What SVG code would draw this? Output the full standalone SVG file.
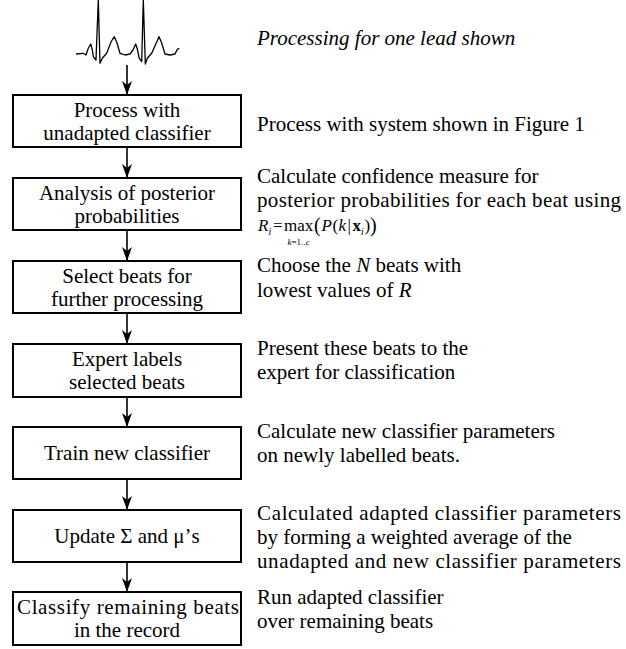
<svg xmlns="http://www.w3.org/2000/svg" width="626" height="649" viewBox="0 0 626 649">
<style>
text { font-family: "Liberation Serif", "Times New Roman", serif; font-size: 21px; fill: #000; }
.c { text-anchor: middle; }
.it { font-style: italic; }
.box { fill: #fff; stroke: #000; stroke-width: 2; }
.conn { stroke: #000; stroke-width: 1.6; fill: none; }
.f { font-size: 17px; }
.fb { font-size: 20px; }
.fs { font-size: 10px; }
.fss { font-size: 9px; }
</style>
<defs>
<marker id="ah" markerWidth="14" markerHeight="10" refX="14" refY="5" orient="auto" markerUnits="userSpaceOnUse" viewBox="0 0 14 10">
<path d="M0,0 L14,5 L0,10 L4,5 Z" fill="#000"/>
</marker>
</defs>

<g id="ecg">
<path d="M76,54 L83,53.3 L86,55 L88.3,48.3 L90.7,44 L92.3,50 L93.3,56.7 L96,60 L98.3,0 L100,63.3 L102.3,58.3 L106.7,53.3 L111,42 L114.3,36.7 L116.7,42 L120,53.3 L125,55 L130,54 L133,50 L135.7,44 L137.3,49 L139.3,58.3 L141.7,61.7 L143.3,0 L145.3,64 L147.3,58.3 L151.7,53.3 L156.7,42 L159,36.7 L161.7,43 L165,54 L170,55 L175,54 L177.3,49.3 L179.3,48.3" fill="none" stroke="#000" stroke-width="1.3" stroke-linejoin="round"/>
</g>

<g id="connectors">
<line class="conn" x1="127" y1="65" x2="127" y2="95" marker-end="url(#ah)"/>
<line class="conn" x1="127" y1="147" x2="127" y2="178" marker-end="url(#ah)"/>
<line class="conn" x1="127" y1="230" x2="127" y2="261" marker-end="url(#ah)"/>
<line class="conn" x1="127" y1="313" x2="127" y2="344" marker-end="url(#ah)"/>
<line class="conn" x1="127" y1="397" x2="127" y2="427" marker-end="url(#ah)"/>
<line class="conn" x1="127" y1="479" x2="127" y2="510" marker-end="url(#ah)"/>
<line class="conn" x1="127" y1="562" x2="127" y2="592" marker-end="url(#ah)"/>
</g>

<g id="n1">
<rect class="box" x="13" y="95" width="228" height="52"/>
<text class="c" x="127" y="117">Process with</text>
<text class="c" x="127" y="140">unadapted classifier</text>
</g>
<g id="n2">
<rect class="box" x="13" y="178" width="228" height="52"/>
<text class="c" x="127" y="200">Analysis of posterior</text>
<text class="c" x="127" y="223">probabilities</text>
</g>
<g id="n3">
<rect class="box" x="13" y="261" width="228" height="52"/>
<text class="c" x="127" y="283">Select beats for</text>
<text class="c" x="127" y="306">further processing</text>
</g>
<g id="n4">
<rect class="box" x="13" y="344" width="228" height="53"/>
<text class="c" x="127" y="366">Expert labels</text>
<text class="c" x="127" y="389">selected beats</text>
</g>
<g id="n5">
<rect class="box" x="13" y="427" width="228" height="52"/>
<text class="c" x="127" y="460">Train new classifier</text>
</g>
<g id="n6">
<rect class="box" x="13" y="510" width="228" height="52"/>
<text class="c" x="127" y="543">Update Σ and μ’s</text>
</g>
<g id="n7">
<rect class="box" x="13" y="592" width="228" height="53"/>
<text x="17" y="614" textLength="222" lengthAdjust="spacing">Classify remaining beats</text>
<text class="c" x="127" y="637">in the record</text>
</g>

<g id="notes">
<text class="it" x="257" y="45">Processing for one lead shown</text>
<text x="257" y="131">Process with system shown in Figure 1</text>
<text x="257" y="183">Calculate confidence measure for</text>
<text x="257" y="207" textLength="364" lengthAdjust="spacing">posterior probabilities for each beat using</text>
<text class="it f" x="258" y="231">R</text>
<text class="it fs" x="268.5" y="235">i</text>
<text class="f" x="273" y="231">=</text>
<text class="f" x="284" y="231">max</text>
<text class="fss c" x="298.6" y="245"><tspan class="it">k</tspan>=1..<tspan class="it">c</tspan></text>
<text class="fb" x="314" y="232">(</text>
<text class="it f" x="321.5" y="231">P</text>
<text class="f" x="332.5" y="231">(</text>
<text class="it f" x="338.5" y="231">k</text>
<text class="f" x="347.5" y="231">|</text>
<text class="f" x="352.5" y="231" font-weight="bold">x</text>
<text class="it fs" x="361" y="235">i</text>
<text class="f" x="364.5" y="231">)</text>
<text class="fb" x="370" y="232">)</text>
<text x="257" y="272">Choose the <tspan class="it">N</tspan>  beats with</text>
<text x="257" y="297">lowest values of <tspan class="it">R</tspan></text>
<text x="257" y="355">Present these beats to the</text>
<text x="257" y="379">expert for classification</text>
<text x="257" y="438">Calculate new classifier parameters</text>
<text x="257" y="462">on newly labelled beats.</text>
<text x="257" y="520" textLength="364" lengthAdjust="spacing">Calculated adapted classifier parameters</text>
<text x="257" y="544">by forming a weighted average of the</text>
<text x="257" y="568" textLength="364" lengthAdjust="spacing">unadapted and new classifier parameters</text>
<text x="257" y="604">Run adapted classifier</text>
<text x="257" y="628">over remaining beats</text>
</g>
</svg>
